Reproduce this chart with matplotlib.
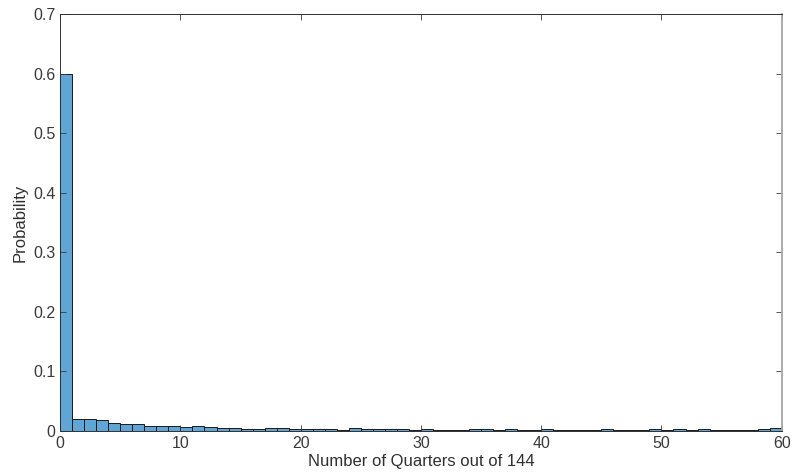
import matplotlib
matplotlib.use("Agg")
import matplotlib.pyplot as plt
import numpy as np

plt.rcParams['font.family'] = ['Liberation Sans', 'DejaVu Sans']

bin_left = list(range(0, 60))
probability = [0.600, 0.020, 0.020, 0.018, 0.014, 0.011, 0.012, 0.009, 0.009, 0.008,
               0.007, 0.008, 0.007, 0.005, 0.005, 0.004, 0.003, 0.005, 0.005, 0.004,
               0.003, 0.003, 0.004, 0.002, 0.005, 0.003, 0.004, 0.003, 0.003, 0.002,
               0.004, 0.002, 0.002, 0.002, 0.003, 0.003, 0.002, 0.003, 0.002, 0.002,
               0.003, 0.001, 0.002, 0.002, 0.002, 0.003, 0.002, 0.002, 0.002, 0.003,
               0.002, 0.003, 0.002, 0.003, 0.002, 0.002, 0.002, 0.002, 0.003, 0.005]
xticks = [0, 10, 20, 30, 40, 50, 60]
yticks = [0, 0.1, 0.2, 0.3, 0.4, 0.5, 0.6, 0.7]
ytick_labels = ['0', '0.1', '0.2', '0.3', '0.4', '0.5', '0.6', '0.7']

fig = plt.figure(figsize=(7.92, 4.72), dpi=100)
ax = fig.add_axes([0.076, 0.087, 0.911, 0.883])
ax.bar(bin_left, probability, width=1.0, align='edge', color='#5fa5d6',
       edgecolor='#1a1a1a', linewidth=0.7)
ax.set_xlim(0, 60)
ax.set_ylim(0, 0.7)
ax.set_xticks(xticks)
ax.set_yticks(yticks)
ax.set_yticklabels(ytick_labels)
ax.tick_params(direction='in', length=4, width=0.6, labelsize=11.5, colors='#3a3a3a',
               top=True, right=True)
for s in ax.spines.values():
    s.set_linewidth(0.7)
    s.set_color('#303030')
ax.spines['right'].set_color('#a6a6a6')
ax.spines['right'].set_linewidth(1.3)
ax.set_xlabel('Number of Quarters out of 144', fontsize=12, color='#303030', labelpad=2)
ax.set_ylabel('Probability', fontsize=12, color='#303030', labelpad=4)
fig.savefig('out.png', dpi=100)
